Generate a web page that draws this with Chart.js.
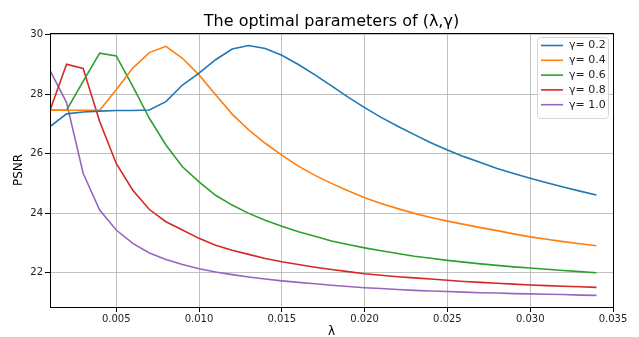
<!DOCTYPE html>
<html lang="en">
<head>
<meta charset="UTF-8">
<title>The optimal parameters of (λ,γ)</title>
<script src="https://cdn.jsdelivr.net/npm/chart.js@4.4.4/dist/chart.umd.min.js"></script>
<style>
  html, body { margin: 0; padding: 0; background: #fff; }
  #chart { display: block; }
</style>
</head>
<body>
<canvas id="chart" width="639" height="337"></canvas>
<script>
// λ values, one point every 0.001
const lambdas = [0.001, 0.002, 0.003, 0.004, 0.005, 0.006, 0.007, 0.008, 0.009, 0.010,
  0.011, 0.012, 0.013, 0.014, 0.015, 0.016, 0.017, 0.018, 0.019, 0.020,
  0.021, 0.022, 0.023, 0.024, 0.025, 0.026, 0.027, 0.028, 0.029, 0.030,
  0.031, 0.032, 0.033, 0.034];

const gamma02 = [26.91, 27.34, 27.40, 27.43, 27.45, 27.45, 27.47, 27.75, 28.31, 28.71,
  29.16, 29.52, 29.64, 29.54, 29.31, 29.00, 28.65, 28.28, 27.90, 27.55,
  27.22, 26.92, 26.64, 26.37, 26.12, 25.90, 25.70, 25.50, 25.33, 25.17,
  25.02, 24.88, 24.74, 24.61];

const gamma04 = [27.46, 27.46, 27.46, 27.46, 28.15, 28.88, 29.40, 29.61, 29.21, 28.65,
  27.98, 27.33, 26.80, 26.35, 25.95, 25.58, 25.27, 25.00, 24.75, 24.52,
  24.32, 24.15, 23.99, 23.85, 23.73, 23.62, 23.51, 23.41, 23.30, 23.20,
  23.12, 23.04, 22.97, 22.90];

const gamma06 = [27.46, 27.46, 28.43, 29.38, 29.29, 28.26, 27.19, 26.29, 25.56, 25.05,
  24.60, 24.27, 23.99, 23.76, 23.56, 23.37, 23.22, 23.06, 22.94, 22.83,
  22.73, 22.64, 22.55, 22.48, 22.41, 22.35, 22.29, 22.24, 22.19, 22.15,
  22.11, 22.07, 22.03, 21.99];

const gamma08 = [27.46, 29.01, 28.87, 27.08, 25.67, 24.77, 24.12, 23.71, 23.43, 23.15,
  22.92, 22.75, 22.61, 22.47, 22.36, 22.27, 22.18, 22.10, 22.03, 21.96,
  21.91, 21.86, 21.82, 21.78, 21.74, 21.70, 21.67, 21.64, 21.61, 21.58,
  21.56, 21.54, 21.52, 21.50];

const gamma10 = [28.80, 27.72, 25.34, 24.10, 23.43, 22.98, 22.66, 22.44, 22.27, 22.13,
  22.02, 21.93, 21.85, 21.78, 21.72, 21.67, 21.62, 21.57, 21.53, 21.49,
  21.46, 21.43, 21.40, 21.38, 21.36, 21.34, 21.32, 21.31, 21.29, 21.28,
  21.27, 21.26, 21.24, 21.23];

const seriesLabels = ['γ= 0.2', 'γ= 0.4', 'γ= 0.6', 'γ= 0.8', 'γ= 1.0'];
const seriesValues = [gamma02, gamma04, gamma06, gamma08, gamma10];
const seriesColors = ['#1f77b4', '#ff7f0e', '#2ca02c', '#d62728', '#9467bd'];

const xTicks = [0.005, 0.010, 0.015, 0.020, 0.025, 0.030, 0.035];
const yTicks = [22, 24, 26, 28, 30];

const titleText = 'The optimal parameters of (λ,γ)';
const xTitle = 'λ';
const FONT = "'DejaVu Sans', sans-serif";

// frame, titles and matplotlib style legend
const framePlugin = {
  id: 'frame',
  afterDraw(chart) {
    const ctx = chart.ctx;
    const a = chart.chartArea;
    ctx.save();
    ctx.strokeStyle = '#000';
    ctx.lineWidth = 1;
    ctx.strokeRect(Math.round(a.left) + 0.5, Math.round(a.top) + 0.5,
      Math.round(a.right - a.left), Math.round(a.bottom - a.top));

    ctx.fillStyle = '#000';
    ctx.font = '16px ' + FONT;
    ctx.textAlign = 'center';
    ctx.textBaseline = 'alphabetic';
    ctx.fillText(titleText, (a.left + a.right) / 2, a.top - 7);

    ctx.font = '12px ' + FONT;
    ctx.textBaseline = 'middle';
    ctx.fillText(xTitle, (a.left + a.right) / 2, chart.height - 5);

    // legend
    const ds = chart.data.datasets;
    const rowH = 14.8;
    const bx = a.right - 76, by = a.top + 4;
    const bw = 71, bh = ds.length * rowH + 7;
    ctx.beginPath();
    ctx.roundRect(bx + 0.5, by + 0.5, bw, bh, 3);
    ctx.fillStyle = 'rgba(255,255,255,0.8)';
    ctx.fill();
    ctx.strokeStyle = '#d6d6d6';
    ctx.stroke();
    ctx.font = '11px ' + FONT;
    ctx.textAlign = 'left';
    ctx.textBaseline = 'middle';
    ds.forEach((d, i) => {
      const y = by + 8.5 + i * rowH;
      ctx.beginPath();
      ctx.strokeStyle = d.borderColor;
      ctx.lineWidth = 1.6;
      ctx.moveTo(bx + 4, y);
      ctx.lineTo(bx + 26, y);
      ctx.stroke();
      ctx.fillStyle = '#222';
      ctx.fillText(d.label, bx + 32, y);
    });
    ctx.restore();
  }
};

const datasets = seriesValues.map((vals, i) => ({
  label: seriesLabels[i],
  data: lambdas.map((x, j) => ({ x: x, y: vals[j] })),
  borderColor: seriesColors[i],
  backgroundColor: seriesColors[i],
  borderWidth: 1.6,
  pointRadius: 0,
  tension: 0,
  fill: false
}));

new Chart(document.getElementById('chart'), {
  type: 'line',
  data: { datasets: datasets },
  options: {
    responsive: false,
    animation: false,
    devicePixelRatio: 1,
    layout: { padding: { top: 33, right: 26, left: 0, bottom: 0 } },
    plugins: {
      legend: { display: false },
      title: { display: false },
      tooltip: { enabled: false }
    },
    scales: {
      x: {
        type: 'linear',
        min: 0.001,
        max: 0.035,
        afterBuildTicks: s => { s.ticks = xTicks.map(v => ({ value: v })); },
        afterFit: s => { s.height = 30; },
        ticks: {
          callback: v => v.toFixed(3),
          color: '#222',
          font: { family: FONT, size: 10 },
          padding: 1,
          maxRotation: 0
        },
        grid: { color: '#b0b0b0', lineWidth: 0.8, drawTicks: true, tickLength: 5, tickColor: '#000', tickWidth: 1 },
        border: { display: true, color: '#000', width: 1 },
        title: { display: false }
      },
      y: {
        type: 'linear',
        min: 20.84,
        max: 30.06,
        afterBuildTicks: s => { s.ticks = yTicks.map(v => ({ value: v })); },
        afterFit: s => { s.width = 50; },
        ticks: {
          callback: v => String(v),
          color: '#222',
          font: { family: FONT, size: 10 },
          padding: 2
        },
        grid: { color: '#b0b0b0', lineWidth: 0.8, drawTicks: true, tickLength: 5, tickColor: '#000', tickWidth: 1 },
        border: { display: true, color: '#000', width: 1 },
        title: { display: true, text: 'PSNR', color: '#000', font: { family: FONT, size: 12 }, padding: { top: 12, bottom: 0 } }
      }
    }
  },
  plugins: [framePlugin]
});
</script>
</body>
</html>
